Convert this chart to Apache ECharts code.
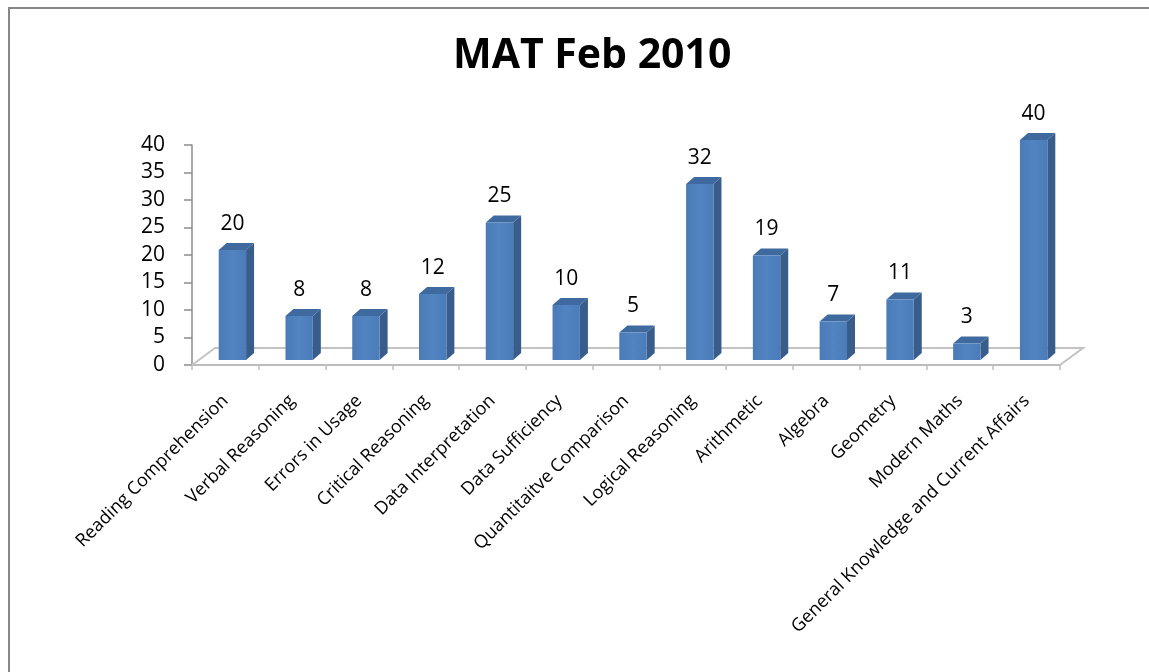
<!DOCTYPE html>
<html>
<head>
<meta charset="utf-8">
<title>MAT Feb 2010</title>
<script src="https://cdn.jsdelivr.net/npm/echarts@6/dist/echarts.min.js"></script>
<style>
  html, body { margin: 0; padding: 0; background: #fff; }
  #chart { width: 1149px; height: 672px; }
</style>
</head>
<body>
<div id="chart"></div>
<script>
// 数据
var categories = [
  'Reading Comprehension', 'Verbal Reasoning', 'Errors in Usage', 'Critical Reasoning',
  'Data Interpretation', 'Data Sufficiency', 'Quantitaitve Comparison', 'Logical Reasoning',
  'Arithmetic', 'Algebra', 'Geometry', 'Modern Maths', 'General Knowledge and Current Affairs'
];
var questions = [20, 8, 8, 12, 25, 10, 5, 32, 19, 7, 11, 3, 40];
var yTicks = [0, 5, 10, 15, 20, 25, 30, 35, 40];

var fontFam = '"Open Sans", "DejaVu Sans", sans-serif';
var depthX = 8, depthY = 7;      // 柱子厚度
var floorX = 23, floorY = 17;    // 底面透视

var myChart = echarts.init(document.getElementById('chart'));

var option = {
  backgroundColor: '#fff',
  animation: false,
  title: {
    text: 'MAT Feb 2010',
    left: 448,
    top: 31,
    textStyle: { fontFamily: fontFam, fontSize: 41, fontWeight: 'bold', color: '#000' }
  },
  graphic: [{
    type: 'rect',
    shape: { x: 9, y: 8, width: 1200, height: 700 },
    style: { fill: 'none', stroke: '#878787', lineWidth: 2 },
    silent: true
  }],
  grid: { left: 192, right: 89, top: 145, bottom: 307 },
  xAxis: {
    type: 'category',
    data: categories,
    boundaryGap: true,
    axisLine: { lineStyle: { color: '#bdbdbd', width: 2 } },
    axisTick: { show: true, length: 5, lineStyle: { color: '#bdbdbd', width: 1.5 } },
    axisLabel: {
      interval: 0,
      rotate: 45,
      margin: 33,
      fontFamily: fontFam,
      fontSize: 18,
      color: '#000'
    },
    splitLine: { show: false }
  },
  yAxis: {
    type: 'value',
    min: yTicks[0],
    max: yTicks[yTicks.length - 1],
    interval: yTicks[1] - yTicks[0],
    axisLine: { show: true, lineStyle: { color: '#8c8c8c', width: 1.5 } },
    axisTick: { show: true, length: 8, lineStyle: { color: '#8c8c8c', width: 1.5 } },
    axisLabel: { margin: 27, fontFamily: fontFam, fontSize: 21, color: '#000' },
    splitLine: { show: false }
  },
  series: [
    {
      // 底面
      type: 'custom',
      z: 1,
      silent: true,
      data: [0],
      renderItem: function (params, api) {
        var cs = params.coordSys;
        var x0 = cs.x, x1 = cs.x + cs.width, y0 = cs.y + cs.height;
        return {
          type: 'polyline',
          shape: { points: [[x0, y0], [x0 + floorX, y0 - floorY], [x1 + floorX, y0 - floorY], [x1, y0]] },
          style: { fill: 'none', stroke: '#c3c3c3', lineWidth: 2 }
        };
      }
    },
    {
      type: 'custom',
      z: 3,
      data: questions.map(function (v, i) { return [i, v]; }),
      encode: { x: 0, y: 1 },
      renderItem: function (params, api) {
        var idx = api.value(0), val = api.value(1);
        var base = api.coord([idx, 0]);
        var top = api.coord([idx, val]);
        var bw = api.size([1, 0])[0] * 0.41;
        var x0 = base[0] + 7 - bw / 2, x1 = x0 + bw;
        var yb = base[1] - 5, yt = top[1] - 5;
        return {
          type: 'group',
          children: [
            {
              type: 'polygon',
              shape: { points: [[x1, yt], [x1 + depthX, yt - depthY], [x1 + depthX, yb - depthY], [x1, yb]] },
              style: { fill: '#385d8a' }
            },
            {
              type: 'polygon',
              shape: { points: [[x0, yt], [x0 + depthX, yt - depthY], [x1 + depthX, yt - depthY], [x1, yt]] },
              style: { fill: '#3f6aa0' }
            },
            {
              type: 'rect',
              shape: { x: x0, y: yt, width: bw, height: yb - yt },
              style: {
                fill: new echarts.graphic.LinearGradient(0, 0, 1, 0, [
                  { offset: 0, color: '#4a7bb7' },
                  { offset: 0.5, color: '#5184c1' },
                  { offset: 1, color: '#4b7cb9' }
                ])
              }
            },
            {
              type: 'text',
              style: {
                text: String(val),
                x: (x0 + x1) / 2,
                y: yt - 26,
                align: 'center',
                verticalAlign: 'middle',
                font: '21px ' + fontFam,
                fill: '#000'
              }
            }
          ]
        };
      }
    }
  ]
};

myChart.setOption(option);
window.addEventListener('resize', function () {
  myChart.resize();
});
</script>
</body>
</html>
